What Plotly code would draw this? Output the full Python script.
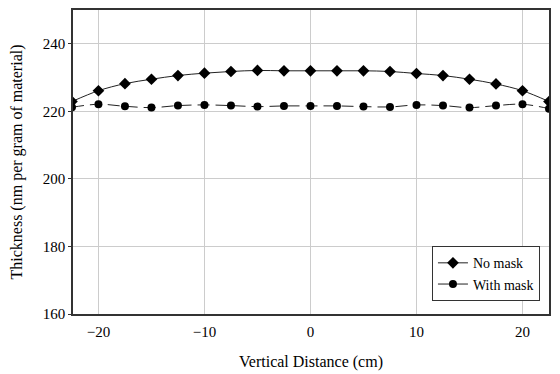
import plotly.graph_objects as go

x_cm = [-22.5, -20, -17.5, -15, -12.5, -10, -7.5, -5, -2.5, 0,
        2.5, 5, 7.5, 10, 12.5, 15, 17.5, 20, 22.5]
no_mask = [222.9, 226.1, 228.2, 229.5, 230.6, 231.3, 231.8, 232.1, 232.0, 232.0,
           232.0, 232.0, 231.8, 231.2, 230.6, 229.5, 228.1, 226.1, 222.9]
with_mask = [221.2, 222.1, 221.5, 221.1, 221.7, 221.9, 221.7, 221.4, 221.6, 221.6,
             221.6, 221.4, 221.3, 221.9, 221.7, 221.1, 221.7, 222.1, 220.8]
x_ticks = [-20, -10, 0, 10, 20]
y_ticks = [160, 180, 200, 220, 240]

font = "Liberation Serif, Times New Roman, serif"

fig = go.Figure()
fig.add_trace(go.Scatter(
    x=x_cm, y=no_mask, name="No mask", mode="lines+markers",
    line=dict(color="#222222", width=1, shape="spline"),
    marker=dict(symbol="diamond", size=9, color="black"),
))
fig.add_trace(go.Scatter(
    x=x_cm, y=with_mask, name="With mask", mode="lines+markers",
    line=dict(color="#222222", width=1, dash="12px,6px", shape="spline"),
    marker=dict(symbol="circle", size=8, color="black"),
))

# the page body has an 8px margin, so the figure is shrunk by that amount
fig.update_layout(
    width=552, height=366,
    margin=dict(l=65, r=11, t=0, b=60),
    paper_bgcolor="white", plot_bgcolor="white",
    font=dict(family=font, size=15, color="black"),
    showlegend=True,
    legend=dict(
        x=0.981, y=0.042, xanchor="right", yanchor="bottom",
        bgcolor="white", bordercolor="#333333", borderwidth=1,
        font=dict(family=font, size=14, color="black"),
        tracegroupgap=0, itemwidth=30,
    ),
    xaxis=dict(
        range=[-22.4, 22.5], tickvals=x_ticks,
        showgrid=True, gridcolor="#cccccc", gridwidth=1,
        zeroline=False, showline=True, linecolor="#333333", linewidth=1.5,
        mirror=True, ticks="outside", ticklen=3, tickcolor="white",
        title=dict(text="Vertical Distance (cm)", standoff=17,
                   font=dict(family=font, size=16)),
        tickfont=dict(family=font, size=15),
    ),
    yaxis=dict(
        range=[160, 250], tickvals=y_ticks,
        showgrid=True, gridcolor="#cccccc", gridwidth=1,
        zeroline=False, showline=True, linecolor="#333333", linewidth=1.5,
        mirror=True, ticks="outside", ticklen=3, tickcolor="#333333",
        title=dict(text="Thickness (nm per gram of material)", standoff=20,
                   font=dict(family=font, size=16)),
        tickfont=dict(family=font, size=15),
    ),
)

fig.write_html("out.html")
